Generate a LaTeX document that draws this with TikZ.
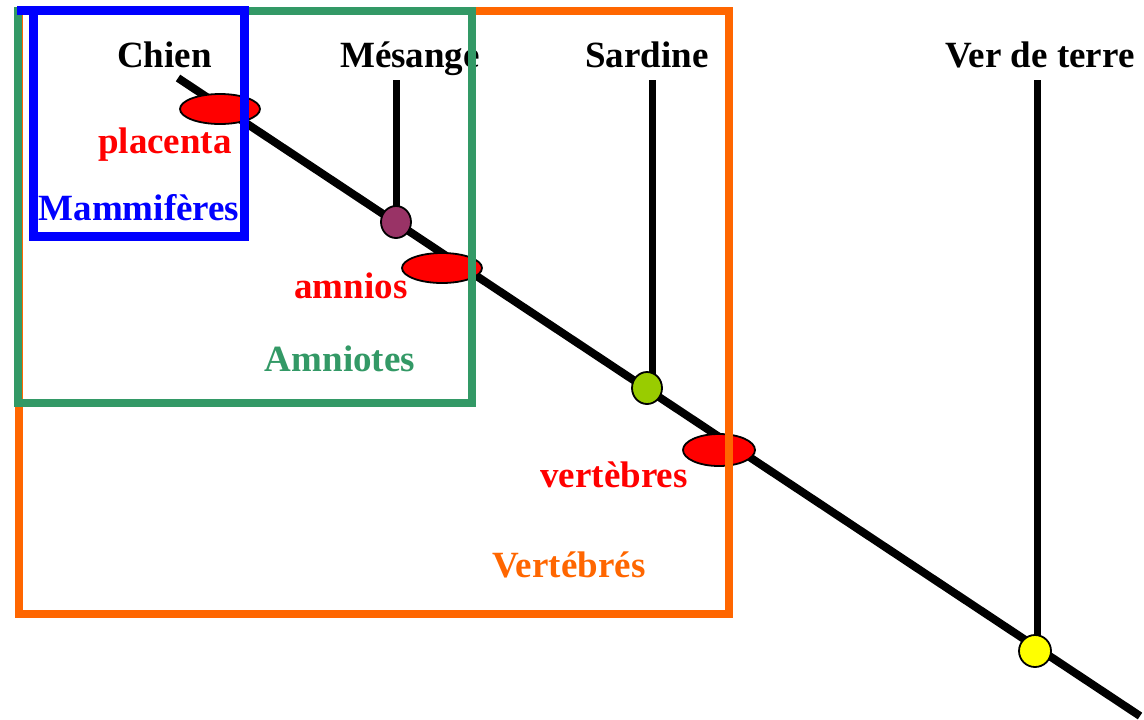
\documentclass[tikz,border=0pt]{standalone}
\usepackage{fontspec}
\setmainfont{Liberation Serif}
\usetikzlibrary{shapes.geometric}
\definecolor{orangeV}{HTML}{FF6600}
\definecolor{vertA}{HTML}{339966}
\definecolor{bleuM}{HTML}{0000FF}
\definecolor{rougeT}{HTML}{FF0000}
\definecolor{violetN}{HTML}{993366}
\definecolor{vertN}{HTML}{99CC00}
\definecolor{jauneN}{HTML}{FFFF00}
\begin{document}
\begin{tikzpicture}[x=0.5pt,y=-0.5pt,
  lbl/.style={font=\fontsize{18.5}{22}\selectfont\bfseries, inner sep=0pt, anchor=base},
  trait/.style={ellipse, fill=rougeT, draw=black, line width=0.9pt, minimum width=40pt, minimum height=15pt, inner sep=0pt},
  noeud/.style={ellipse, draw=black, line width=0.9pt, minimum width=15pt, minimum height=16pt, inner sep=0pt},
  branche/.style={line width=4pt},
  tige/.style={line width=3.5pt},
  groupe/.style={line width=4pt}]
\useasboundingbox (0,0) rectangle (1144,719);
% main axis
\coordinate (haut) at (178,78);
\coordinate (bas) at (1140,716);
\draw[branche] (haut) -- (bas);
% node positions
\coordinate (pmes) at (396,222);
\coordinate (psar) at (647,388);
\coordinate (pver) at (1035,651);
\coordinate (tmes) at (396,80);
\coordinate (tsar) at (652,80);
\coordinate (tver) at (1037,80);
\draw[tige] (tmes) -- (pmes);
\draw[tige] (tsar) -- (tsar |- psar);
\draw[tige] (tver) -- (tver |- pver);
% traits
\node[trait] (placenta) at (220,109) {};
\node[trait] (amnios) at (442,268) {};
\node[trait, minimum width=36pt, minimum height=16pt] (vertebres) at (719,450) {};
% nodes
\node[noeud, fill=violetN] (nmes) at (pmes) {};
\node[noeud, fill=vertN] (nsar) at (psar) {};
\node[noeud, fill=jauneN, minimum width=16pt] (nver) at (pver) {};
% taxa labels
\node[lbl] (chien) at (164.5,67) {Chien};
\node[lbl] (mesange) at (410,67) {Mésange};
\node[lbl] (sardine) at (647,67) {Sardine};
\node[lbl] (ver) at (1040,67) {Ver de terre};
% trait labels
\node[lbl, text=rougeT] (lplacenta) at (165,153) {placenta};
\node[lbl, text=rougeT] (lamnios) at (351,298) {amnios};
\node[lbl, text=rougeT] (lvertebres) at (614,487) {vertèbres};
% group labels
\node[lbl, text=bleuM] (lmam) at (139,220) {Mammifères};
\node[lbl, text=vertA] (lamn) at (340,371) {Amniotes};
\node[lbl, text=orangeV] (lvert) at (569,577) {Vertébrés};
% group frames
\draw[groupe, orangeV] (19,11) rectangle (729,614);
\draw[groupe, vertA] (18,10.5) rectangle (472,403);
\draw[groupe, bleuM, line width=4.5pt] (17,10.5) -- (244.5,10.5) -- (244.5,236) -- (33.5,236) -- (33.5,10.5);
\end{tikzpicture}
\end{document}
